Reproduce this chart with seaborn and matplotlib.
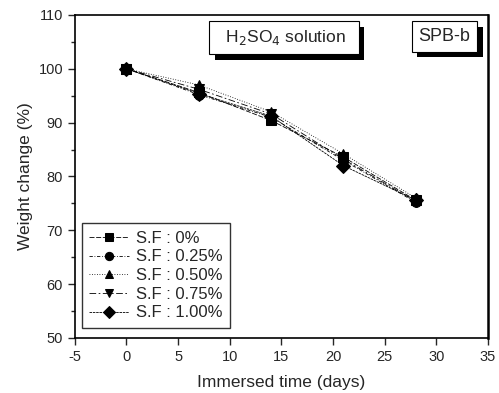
import matplotlib
matplotlib.use("Agg")
import matplotlib.pyplot as plt
import matplotlib.patheffects as pe
from matplotlib.ticker import MultipleLocator
import pandas as pd
import seaborn as sns

days = [0, 7, 14, 21, 28]
sf_labels = ["S.F : 0%", "S.F : 0.25%", "S.F : 0.50%", "S.F : 0.75%", "S.F : 1.00%"]
sf_0 = [100, 95.6, 90.4, 83.6, 75.6]
sf_025 = [100, 95.2, 91.0, 83.0, 75.2]
sf_050 = [100, 97.0, 92.0, 84.2, 76.0]
sf_075 = [100, 96.2, 91.6, 83.2, 75.4]
sf_100 = [100, 95.4, 91.2, 82.0, 75.6]

df = pd.DataFrame({
    "day": days * 5,
    "weight": sf_0 + sf_025 + sf_050 + sf_075 + sf_100,
    "sf": [lab for lab in sf_labels for _ in days],
})

sns.set_style("ticks")
plt.rcParams["font.family"] = ["Liberation Sans", "DejaVu Sans"]
plt.rcParams["axes.unicode_minus"] = False

fig = plt.figure(figsize=(4.99, 3.93), dpi=100)
ax = fig.add_axes([0.150, 0.140, 0.828, 0.822])

markers = dict(zip(sf_labels, ["s", "o", "^", "v", "D"]))
dashes = dict(zip(sf_labels, [(6, 2), (4, 2, 1, 2), (1, 2), (8, 3, 2, 3), (3, 1)]))
sns.lineplot(data=df, x="day", y="weight", hue="sf", style="sf",
             palette=["black"] * 5, markers=markers, dashes=dashes,
             markersize=7, linewidth=0.6, markeredgecolor="black", ax=ax)

ax.set_xlim(-5, 35)
ax.set_ylim(50, 110)
ax.xaxis.set_major_locator(MultipleLocator(5))
ax.yaxis.set_major_locator(MultipleLocator(10))
ax.yaxis.set_minor_locator(MultipleLocator(5))
ax.tick_params(axis="both", which="major", direction="out", length=5, width=1, labelsize=10.5)
ax.tick_params(axis="y", which="minor", direction="out", length=3, width=1)
for sp in ax.spines.values():
    sp.set_linewidth(1.2)
    sp.set_color("black")
ax.spines["right"].set_linewidth(1.8)
ax.set_xlabel("Immersed time (days)", fontsize=12.5, labelpad=8)
ax.set_ylabel("Weight change (%)", fontsize=12.5)

leg = ax.legend(loc="lower left", bbox_to_anchor=(0.017, 0.031), borderaxespad=0,
                fontsize=12, frameon=True, fancybox=False, edgecolor="black",
                handlelength=2.4, handletextpad=0.4, labelspacing=0.22, borderpad=0.45,
                markerscale=0.85)
leg.get_frame().set_linewidth(1.0)

shadow = [pe.SimplePatchShadow(offset=(4, -4), shadow_rgbFace="black", alpha=1), pe.Normal()]
t1 = ax.text(0.506, 0.930, "  H$_2$SO$_4$ solution  ", transform=ax.transAxes,
             fontsize=12.5, ha="center", va="center",
             bbox=dict(boxstyle="square,pad=0.4", fc="white", ec="black", lw=0.8))
t2 = ax.text(0.895, 0.933, "SPB-b", transform=ax.transAxes,
             fontsize=13, ha="center", va="center",
             bbox=dict(boxstyle="square,pad=0.38", fc="white", ec="black", lw=0.8))
for t in (t1, t2):
    t.get_bbox_patch().set_path_effects(shadow)

fig.savefig("out.png", dpi=100)
